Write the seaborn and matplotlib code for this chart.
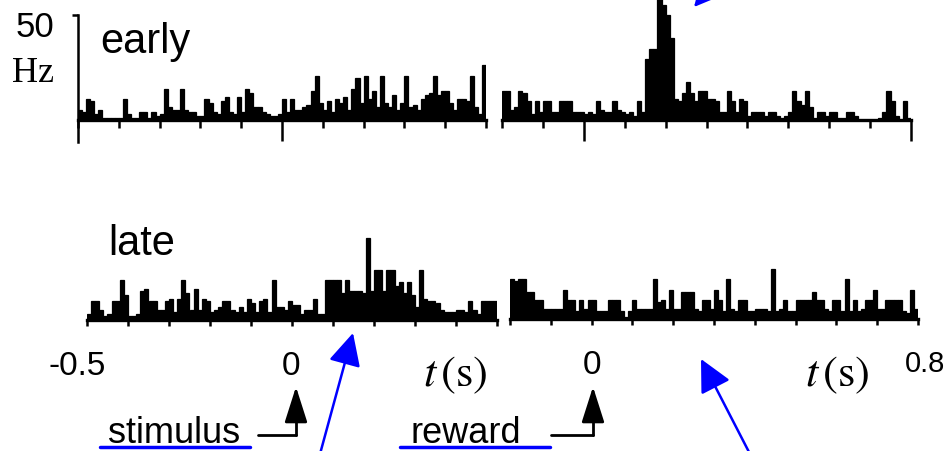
import numpy as np
import pandas as pd
import matplotlib.pyplot as plt
import seaborn as sns
from matplotlib.lines import Line2D

# firing rate (Hz) per 10 ms bin
early_stim_hz = [5, 4, 10, 9, 3, 5, 1, 1, 1, 1,
                 1, 10, 3, 1, 1, 4, 4, 1, 4, 2,
                 3, 15, 6, 5, 5, 15, 5, 4, 4, 2,
                 2, 10, 8, 4, 3, 9, 11, 4, 3, 11,
                 4, 15, 13, 6, 6, 4, 3, 2, 2, 3,
                 10, 4, 10, 5, 5, 6, 7, 14, 21, 8,
                 5, 9, 4, 10, 8, 11, 5, 15, 20, 8,
                 21, 10, 14, 6, 21, 8, 6, 12, 5, 8,
                 21, 6, 7, 5, 10, 12, 13, 21, 12, 14,
                 14, 8, 5, 10, 10, 9, 21, 6, 3, 26]
early_reward_hz = [14, 14, 5, 6, 14, 13, 9, 3, 9, 4,
                   9, 9, 4, 4, 9, 9, 9, 4, 4, 4,
                   3, 4, 3, 9, 5, 4, 4, 9, 5, 4,
                   3, 4, 2, 9, 4, 29, 34, 34, 60, 55,
                   50, 39, 10, 9, 13, 18, 13, 9, 14, 14,
                   10, 10, 9, 4, 4, 14, 9, 4, 10, 9,
                   2, 4, 4, 4, 2, 4, 4, 2, 1, 2,
                   4, 14, 9, 7, 14, 6, 1, 4, 4, 2,
                   4, 4, 1, 1, 4, 4, 2, 0, 0, 0,
                   0, 0, 1, 4, 14, 9, 2, 0, 9, 1]
late_stim_hz = [3, 9, 9, 5, 2, 3, 9, 9, 19, 12,
                2, 2, 3, 14, 15, 9, 9, 5, 5, 9,
                10, 4, 10, 19, 13, 5, 15, 5, 10, 9,
                4, 5, 6, 9, 9, 5, 4, 6, 4, 10,
                8, 4, 9, 10, 4, 19, 6, 6, 5, 9,
                7, 7, 3, 5, 5, 10, 3, 3, 19, 19,
                19, 19, 13, 19, 14, 14, 14, 13, 39, 14,
                24, 24, 14, 24, 24, 16, 18, 13, 18, 12,
                6, 24, 10, 9, 9, 8, 5, 4, 4, 4,
                5, 5, 4, 9, 5, 3, 9, 9, 9, 9]
late_reward_hz = [19, 18, 19, 19, 13, 13, 9, 9, 5, 5,
                  5, 5, 5, 14, 9, 9, 4, 9, 5, 9,
                  9, 4, 4, 4, 9, 9, 9, 4, 1, 4,
                  9, 5, 5, 5, 5, 19, 8, 9, 5, 14,
                  5, 5, 13, 13, 13, 5, 4, 9, 9, 5,
                  14, 9, 4, 19, 5, 4, 9, 9, 4, 4,
                  5, 5, 5, 4, 24, 4, 5, 9, 4, 4,
                  9, 9, 9, 9, 13, 9, 9, 5, 4, 9,
                  9, 4, 19, 4, 9, 4, 5, 9, 9, 14,
                  5, 5, 9, 9, 9, 9, 4, 3, 14, 5]

stim_window = (-0.5, 0.5)
reward_window = (-0.2, 0.8)
bin_s = 0.01

W, H = 949, 452
PX_PER_HZ = 2.1

sns.set_theme(style="white")
plt.rcParams["font.family"] = ["Liberation Sans", "DejaVu Sans"]
plt.rcParams["mathtext.fontset"] = "stix"
plt.rcParams["text.color"] = "black"

fig = plt.figure(figsize=(W / 100, H / 100), dpi=100)


def fxy(x, y):
    # pixel position (from top-left) -> figure fraction
    return x / W, 1 - y / H


def psth(rates, window, left, right, top, bottom, base, long_ticks, tick_len):
    x0, y1 = fxy(left, top)
    x1, y0 = fxy(right, bottom)
    ax = fig.add_axes([x0, y0, x1 - x0, y1 - y0])
    ax.patch.set_alpha(0)
    edges = np.round(np.arange(window[0], window[1] + bin_s / 2, bin_s), 3)
    df = pd.DataFrame({"t": edges[:-1] + bin_s / 2, "rate": rates})
    sns.histplot(data=df, x="t", weights="rate", bins=list(edges), color="black",
                 alpha=1, edgecolor="black", linewidth=0.9, ax=ax)
    ax.set_xlim(*window)
    ax.set_ylim(-(bottom - base) / PX_PER_HZ, (base - top) / PX_PER_HZ)
    ax.set_xlabel("")
    ax.set_ylabel("")
    for s in ["top", "right", "left"]:
        ax.spines[s].set_visible(False)
    ax.spines["bottom"].set_position(("data", 0))
    ax.spines["bottom"].set_color("black")
    ax.spines["bottom"].set_linewidth(2.4)
    ax.set_yticks([])
    all_ticks = np.round(np.arange(window[0], window[1] + 0.05, 0.1), 2)
    ax.set_xticks(long_ticks)
    ax.set_xticks([t for t in all_ticks if t not in long_ticks], minor=True)
    ax.tick_params(axis="x", which="both", bottom=True, direction="out",
                   width=1.8, color="black", labelbottom=False)
    ax.tick_params(axis="x", which="major", length=tick_len[0])
    ax.tick_params(axis="x", which="minor", length=tick_len[1])
    return ax


ax_es = psth(early_stim_hz, stim_window, 78, 486, 0, 150, 121, [0.0], (15, 6))
ax_er = psth(early_reward_hz, reward_window, 502, 911, 0, 150, 121, [0.0, 0.8], (15, 6))
ax_ls = psth(late_stim_hz, stim_window, 87, 497, 200, 340, 321, [], (4.5, 4.5))
ax_lr = psth(late_reward_hz, reward_window, 510, 918, 200, 340, 320, [], (4.5, 4.5))
ax_ls.set_xticks(np.round(np.arange(-0.5, 0.55, 0.1), 2))
ax_lr.set_xticks(np.round(np.arange(-0.2, 0.85, 0.1), 2))

# scale bar on the first panel
ax_es.spines["left"].set_visible(True)
ax_es.spines["left"].set_color("black")
ax_es.spines["left"].set_linewidth(1.8)
ax_es.spines["left"].set_bounds(-10.5, 50)
ax_es.set_yticks([50])
ax_es.tick_params(axis="y", left=True, direction="out", length=4, width=1.8,
                  color="black", labelleft=False)

# labels
fig.text(*fxy(100, 53), "early", fontsize=30, va="baseline")
fig.text(*fxy(108, 255), "late", fontsize=30, va="baseline")
fig.text(*fxy(54, 37), "50", fontsize=25, ha="right", va="baseline")
fig.text(*fxy(33, 82), "Hz", fontsize=26, ha="center", va="baseline",
         family="Liberation Serif")
fig.text(*fxy(77, 375), "-0.5", fontsize=24, ha="center", va="baseline")
fig.text(*fxy(291, 375), "0", fontsize=24, ha="center", va="baseline")
fig.text(*fxy(592, 374), "0", fontsize=24, ha="center", va="baseline")
fig.text(*fxy(945, 372), "0.8", fontsize=21, ha="right", va="baseline")
fig.text(*fxy(455, 386), r"$t\,(\mathrm{s})$", fontsize=32, ha="center", va="baseline")
fig.text(*fxy(837, 386), r"$t\,(\mathrm{s})$", fontsize=32, ha="center", va="baseline")
fig.text(*fxy(174, 443), "stimulus", fontsize=26, ha="center", va="baseline")
fig.text(*fxy(466, 443), "reward", fontsize=26, ha="center", va="baseline")

# event arrows (black, right-angled)
for x_start, x_event in [(258, 296), (551, 593)]:
    fig.add_artist(Line2D([x_start / W, x_event / W], [1 - 436 / H, 1 - 436 / H],
                          transform=fig.transFigure, color="black", lw=2))
    fig.add_artist(Line2D([x_event / W, x_event / W], [1 - 436 / H, 1 - 405 / H],
                          transform=fig.transFigure, color="black", lw=2))
    plt.annotate("", xy=fxy(x_event, 385), xytext=fxy(x_event, 410),
                 xycoords="figure fraction", textcoords="figure fraction",
                 annotation_clip=False,
                 arrowprops=dict(arrowstyle="-|>,head_length=1.1,head_width=0.35",
                                 color="black", lw=2, mutation_scale=20))

# blue annotation marks
for x_a, x_b in [(100, 250), (400, 550)]:
    fig.add_artist(Line2D([x_a / W, x_b / W], [1 - 448 / H, 1 - 448 / H],
                          transform=fig.transFigure, color="#0000ff", lw=2.5))
for tail, tip in [((740, -45), (694, 8)), ((320, 455), (353, 334)),
                  ((750, 455), (701, 360))]:
    plt.annotate("", xy=fxy(*tip), xytext=fxy(*tail),
                 xycoords="figure fraction", textcoords="figure fraction",
                 annotation_clip=False,
                 arrowprops=dict(arrowstyle="-|>,head_length=1.0,head_width=0.5",
                                 color="#0000ff", lw=1.8, mutation_scale=20,
                                 shrinkA=0, shrinkB=0))

fig.savefig("out.png", dpi=100, facecolor="white")
